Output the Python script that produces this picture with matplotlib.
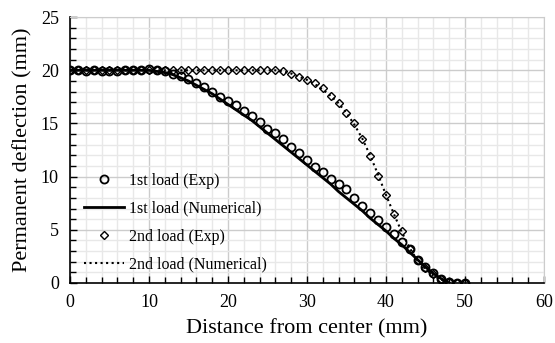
import numpy as np
import matplotlib
matplotlib.use("Agg")
import matplotlib.pyplot as plt
from matplotlib.ticker import MultipleLocator

plt.rcParams['font.family'] = ['Liberation Serif', 'DejaVu Serif']

# 1st load, experiment (circles)
x_exp = np.arange(0, 51)
y1_exp = [20.0, 20.0, 19.9, 20.0, 19.9, 19.9, 19.9, 20.0, 20.0, 20.0,
          20.1, 20.0, 19.9, 19.7, 19.45, 19.2, 18.8, 18.4, 18.0, 17.5,
          17.1, 16.7, 16.2, 15.7, 15.1, 14.5, 14.1, 13.5, 12.8, 12.2,
          11.6, 10.9, 10.4, 9.8, 9.3, 8.8, 8.0, 7.2, 6.6, 5.9,
          5.3, 4.6, 3.9, 3.2, 2.2, 1.5, 0.9, 0.4, 0.1, 0.0, 0.0]

# 2nd load, experiment (diamonds)
y2_exp = [20.0, 20.0, 20.0, 20.0, 20.0, 20.0, 20.0, 20.0, 20.0, 20.0,
          20.0, 20.0, 20.0, 20.0, 20.0, 20.0, 20.0, 20.0, 20.0, 20.0,
          20.0, 20.0, 20.0, 20.0, 20.0, 20.0, 20.0, 19.9, 19.7, 19.4,
          19.1, 18.8, 18.3, 17.6, 16.9, 16.0, 15.0, 13.5, 11.9, 10.1,
          8.3, 6.5, 4.9, 3.2, 2.2, 1.4, 0.85, 0.35, 0.1, 0.0, 0.0]

# numerical curves
x_num = np.arange(0, 49)
y1_num = [20.0] * 11 + [19.9, 19.8, 19.6, 19.3, 19.0, 18.6, 18.2, 17.8, 17.3,
                        16.8, 16.3, 15.8, 15.3, 14.7, 14.1, 13.5, 12.9, 12.3, 11.7,
                        11.1, 10.5, 9.9, 9.3, 8.6, 8.0, 7.4, 6.8, 6.1, 5.5,
                        4.9, 4.2, 3.6, 2.9, 2.2, 1.5, 0.9, 0.4, 0.0]
y2_num = [20.0] * 27 + [19.9, 19.7, 19.4, 19.1, 18.7, 18.2, 17.6, 16.9, 16.0,
                        14.9, 13.6, 12.0, 10.2, 8.3, 6.5, 4.8, 3.3, 2.1, 1.3,
                        0.7, 0.3, 0.0]

fig = plt.figure(figsize=(5.55, 3.43), dpi=100)
ax = fig.add_axes([0.126, 0.175, 0.854, 0.775])

ax.plot(x_exp, y1_exp, 'o', ms=5.8, mfc='none', mec='black', mew=1.3,
        label='1st load (Exp)', zorder=4)
ax.plot(x_num, y1_num, '-', color='black', lw=2, label='1st load (Numerical)', zorder=3)
ax.plot(x_exp, y2_exp, 'D', ms=4, mfc='none', mec='black', mew=1.0,
        label='2nd load (Exp)', zorder=4)
ax.plot(x_num, y2_num, ':', color='black', lw=1.5, label='2nd load (Numerical)', zorder=3)

ax.set_xlim(0, 60)
ax.set_ylim(0, 25)
ax.xaxis.set_major_locator(MultipleLocator(10))
ax.xaxis.set_minor_locator(MultipleLocator(2))
ax.yaxis.set_major_locator(MultipleLocator(5))
ax.yaxis.set_minor_locator(MultipleLocator(1))
ax.tick_params(which='both', direction='in', top=False, right=False, labelsize=13)
ax.tick_params(which='major', length=5, width=1)
ax.tick_params(which='minor', length=4, width=1)
ax.tick_params(axis='x', pad=8)
ax.tick_params(axis='y', pad=8)
ax.grid(which='major', color='#cccccc', lw=1)
ax.grid(which='minor', color='#e8e8e8', lw=1)
ax.set_axisbelow(True)
for s in ['top', 'right']:
    ax.spines[s].set_color('#cccccc')
for s in ['left', 'bottom']:
    ax.spines[s].set_linewidth(1.2)

ax.set_xlabel('Distance from center (mm)', fontsize=16, labelpad=6)
ax.set_ylabel('Permanent deflection (mm)', fontsize=16, labelpad=6)

ax.legend(loc='upper left', bbox_to_anchor=(0.03, 0.415), frameon=False,
          fontsize=11.5, handlelength=2.5, handletextpad=0.3, labelspacing=0.75,
          borderpad=0, borderaxespad=0)

fig.savefig('out.png', dpi=100)
